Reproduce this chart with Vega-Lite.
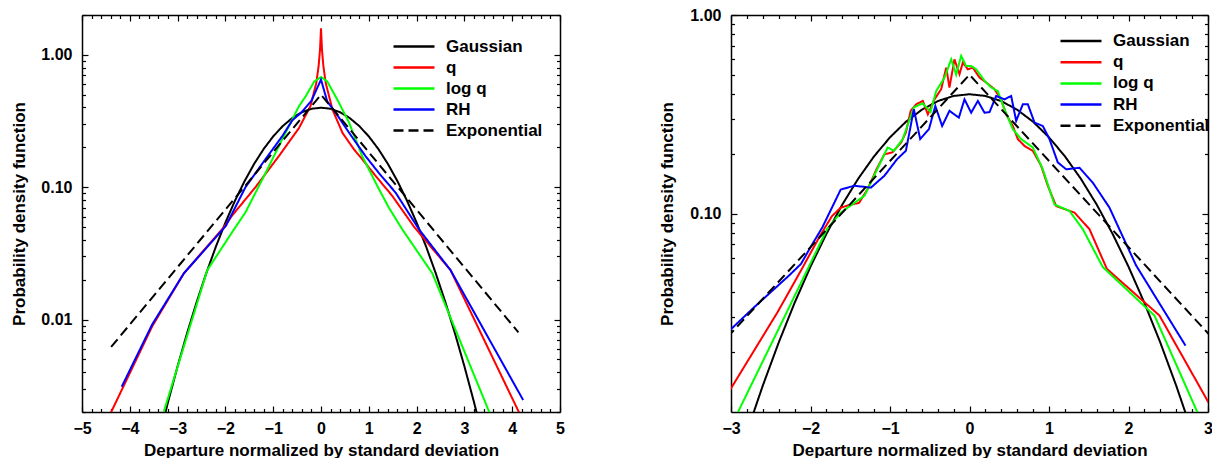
{
  "$schema": "https://vega.github.io/schema/vega-lite/v6.json",
  "padding": {"left": 10, "top": 7, "right": 1, "bottom": 2},
  "config": {
    "view": {"stroke": null},
    "axis": {"domainColor": "black", "domainWidth": 1.5, "tickColor": "black", "tickWidth": 1.2, "grid": false,
      "labelFont": "Liberation Sans", "labelFontWeight": "bold", "labelFontSize": 16, "labelColor": "black",
      "titleFont": "Liberation Sans", "titleFontWeight": "bold", "titleFontSize": 17, "titleColor": "black",
      "labelOverlap": false, "labelFlush": false, "labelBound": false}
  },
  "datasets": {
    "left": [
      {"s":"Gaussian","x":-3.4,"y":0.00123},{"s":"Gaussian","x":-3.2,"y":0.00238},{"s":"Gaussian","x":-3.0,"y":0.00443},{"s":"Gaussian","x":-2.8,"y":0.00792},{"s":"Gaussian","x":-2.6,"y":0.01358},{"s":"Gaussian","x":-2.4,"y":0.02239},{"s":"Gaussian","x":-2.2,"y":0.03547},{"s":"Gaussian","x":-2.0,"y":0.05399},{"s":"Gaussian","x":-1.8,"y":0.07895},{"s":"Gaussian","x":-1.6,"y":0.11092},{"s":"Gaussian","x":-1.4,"y":0.14973},{"s":"Gaussian","x":-1.2,"y":0.19419},{"s":"Gaussian","x":-1.0,"y":0.24197},{"s":"Gaussian","x":-0.8,"y":0.28969},{"s":"Gaussian","x":-0.6,"y":0.33322},{"s":"Gaussian","x":-0.4,"y":0.36827},{"s":"Gaussian","x":-0.2,"y":0.39104},{"s":"Gaussian","x":0.0,"y":0.39894},{"s":"Gaussian","x":0.2,"y":0.39104},{"s":"Gaussian","x":0.4,"y":0.36827},{"s":"Gaussian","x":0.6,"y":0.33322},{"s":"Gaussian","x":0.8,"y":0.28969},{"s":"Gaussian","x":1.0,"y":0.24197},{"s":"Gaussian","x":1.2,"y":0.19419},{"s":"Gaussian","x":1.4,"y":0.14973},{"s":"Gaussian","x":1.6,"y":0.11092},{"s":"Gaussian","x":1.8,"y":0.07895},{"s":"Gaussian","x":2.0,"y":0.05399},{"s":"Gaussian","x":2.2,"y":0.03547},{"s":"Gaussian","x":2.4,"y":0.02239},{"s":"Gaussian","x":2.6,"y":0.01358},{"s":"Gaussian","x":2.8,"y":0.00792},{"s":"Gaussian","x":3.0,"y":0.00443},{"s":"Gaussian","x":3.2,"y":0.00238},{"s":"Gaussian","x":3.4,"y":0.00123},
      {"s":"q","x":-4.45,"y":0.0018},{"s":"q","x":-3.53,"y":0.0089},{"s":"q","x":-2.87,"y":0.0223},{"s":"q","x":-2.03,"y":0.05},{"s":"q","x":-1.86,"y":0.061},{"s":"q","x":-1.37,"y":0.1},{"s":"q","x":-0.88,"y":0.172},{"s":"q","x":-0.46,"y":0.28},{"s":"q","x":-0.22,"y":0.41},{"s":"q","x":-0.1,"y":0.61},{"s":"q","x":-0.05,"y":0.82},{"s":"q","x":-0.02,"y":1.1},{"s":"q","x":0,"y":1.59},{"s":"q","x":0.02,"y":1.1},{"s":"q","x":0.05,"y":0.82},{"s":"q","x":0.1,"y":0.61},{"s":"q","x":0.24,"y":0.386},{"s":"q","x":0.45,"y":0.257},{"s":"q","x":0.69,"y":0.193},{"s":"q","x":0.86,"y":0.163},{"s":"q","x":1.14,"y":0.122},{"s":"q","x":1.49,"y":0.086},{"s":"q","x":1.95,"y":0.05},{"s":"q","x":2.71,"y":0.0236},{"s":"q","x":4.2,"y":0.0018},
      {"s":"log q","x":-3.35,"y":0.0017},{"s":"log q","x":-2.38,"y":0.0236},{"s":"log q","x":-1.82,"y":0.048},{"s":"log q","x":-1.58,"y":0.0645},{"s":"log q","x":-1.16,"y":0.128},{"s":"log q","x":-0.81,"y":0.23},{"s":"log q","x":-0.46,"y":0.41},{"s":"log q","x":-0.32,"y":0.486},{"s":"log q","x":-0.14,"y":0.63},{"s":"log q","x":0,"y":0.68},{"s":"log q","x":0.13,"y":0.63},{"s":"log q","x":0.34,"y":0.46},{"s":"log q","x":0.59,"y":0.306},{"s":"log q","x":0.86,"y":0.172},{"s":"log q","x":1.21,"y":0.097},{"s":"log q","x":1.42,"y":0.07},{"s":"log q","x":1.7,"y":0.048},{"s":"log q","x":2.33,"y":0.0223},{"s":"log q","x":3.6,"y":0.0017},
      {"s":"RH","x":-4.17,"y":0.0031},{"s":"RH","x":-3.53,"y":0.0092},{"s":"RH","x":-2.87,"y":0.0223},{"s":"RH","x":-1.99,"y":0.051},{"s":"RH","x":-1.58,"y":0.1},{"s":"RH","x":-1.16,"y":0.163},{"s":"RH","x":-0.81,"y":0.243},{"s":"RH","x":-0.6,"y":0.32},{"s":"RH","x":-0.4,"y":0.37},{"s":"RH","x":-0.2,"y":0.45},{"s":"RH","x":0,"y":0.65},{"s":"RH","x":0.13,"y":0.445},{"s":"RH","x":0.31,"y":0.364},{"s":"RH","x":0.59,"y":0.257},{"s":"RH","x":0.93,"y":0.172},{"s":"RH","x":1.21,"y":0.128},{"s":"RH","x":1.56,"y":0.091},{"s":"RH","x":2.05,"y":0.048},{"s":"RH","x":2.71,"y":0.0236},{"s":"RH","x":4.23,"y":0.00246},
      {"s":"Exponential","x":-4.39,"y":0.0062},{"s":"Exponential","x":0,"y":0.5},{"s":"Exponential","x":4.13,"y":0.008}
    ],
    "right": [
      {"s":"Gaussian","x":-3.2,"y":0.00238},{"s":"Gaussian","x":-3.0,"y":0.00443},{"s":"Gaussian","x":-2.8,"y":0.00792},{"s":"Gaussian","x":-2.6,"y":0.01358},{"s":"Gaussian","x":-2.4,"y":0.02239},{"s":"Gaussian","x":-2.2,"y":0.03547},{"s":"Gaussian","x":-2.0,"y":0.05399},{"s":"Gaussian","x":-1.8,"y":0.07895},{"s":"Gaussian","x":-1.6,"y":0.11092},{"s":"Gaussian","x":-1.4,"y":0.14973},{"s":"Gaussian","x":-1.2,"y":0.19419},{"s":"Gaussian","x":-1.0,"y":0.24197},{"s":"Gaussian","x":-0.8,"y":0.28969},{"s":"Gaussian","x":-0.6,"y":0.33322},{"s":"Gaussian","x":-0.4,"y":0.36827},{"s":"Gaussian","x":-0.2,"y":0.39104},{"s":"Gaussian","x":0.0,"y":0.39894},{"s":"Gaussian","x":0.2,"y":0.39104},{"s":"Gaussian","x":0.4,"y":0.36827},{"s":"Gaussian","x":0.6,"y":0.33322},{"s":"Gaussian","x":0.8,"y":0.28969},{"s":"Gaussian","x":1.0,"y":0.24197},{"s":"Gaussian","x":1.2,"y":0.19419},{"s":"Gaussian","x":1.4,"y":0.14973},{"s":"Gaussian","x":1.6,"y":0.11092},{"s":"Gaussian","x":1.8,"y":0.07895},{"s":"Gaussian","x":2.0,"y":0.05399},{"s":"Gaussian","x":2.2,"y":0.03547},{"s":"Gaussian","x":2.4,"y":0.02239},{"s":"Gaussian","x":2.6,"y":0.01358},{"s":"Gaussian","x":2.8,"y":0.00792},{"s":"Gaussian","x":3.0,"y":0.00443},{"s":"Gaussian","x":3.2,"y":0.00238},
      {"s":"q","x":-3.05,"y":0.0122},{"s":"q","x":-2.415,"y":0.0318},{"s":"q","x":-2.12,"y":0.0516},{"s":"q","x":-1.89,"y":0.076},{"s":"q","x":-1.83,"y":0.0834},{"s":"q","x":-1.73,"y":0.097},{"s":"q","x":-1.62,"y":0.107},{"s":"q","x":-1.49,"y":0.111},{"s":"q","x":-1.39,"y":0.113},{"s":"q","x":-1.28,"y":0.133},{"s":"q","x":-1.17,"y":0.167},{"s":"q","x":-1.07,"y":0.199},{"s":"q","x":-0.97,"y":0.203},{"s":"q","x":-0.86,"y":0.228},{"s":"q","x":-0.8,"y":0.256},{"s":"q","x":-0.74,"y":0.329},{"s":"q","x":-0.671,"y":0.355},{"s":"q","x":-0.587,"y":0.369},{"s":"q","x":-0.524,"y":0.316},{"s":"q","x":-0.44,"y":0.376},{"s":"q","x":-0.356,"y":0.423},{"s":"q","x":-0.293,"y":0.543},{"s":"q","x":-0.252,"y":0.431},{"s":"q","x":-0.189,"y":0.598},{"s":"q","x":-0.126,"y":0.503},{"s":"q","x":-0.084,"y":0.576},{"s":"q","x":-0.021,"y":0.533},{"s":"q","x":0.042,"y":0.543},{"s":"q","x":0.126,"y":0.484},{"s":"q","x":0.21,"y":0.457},{"s":"q","x":0.314,"y":0.423},{"s":"q","x":0.398,"y":0.376},{"s":"q","x":0.461,"y":0.316},{"s":"q","x":0.545,"y":0.276},{"s":"q","x":0.608,"y":0.237},{"s":"q","x":0.692,"y":0.219},{"s":"q","x":0.797,"y":0.207},{"s":"q","x":0.901,"y":0.174},{"s":"q","x":0.985,"y":0.138},{"s":"q","x":1.09,"y":0.109},{"s":"q","x":1.321,"y":0.101},{"s":"q","x":1.509,"y":0.0834},{"s":"q","x":1.728,"y":0.0526},{"s":"q","x":2.39,"y":0.0306},{"s":"q","x":3.05,"y":0.0104},
      {"s":"log q","x":-2.95,"y":0.0093},{"s":"log q","x":-2.37,"y":0.0278},{"s":"log q","x":-1.79,"y":0.0837},{"s":"log q","x":-1.62,"y":0.101},{"s":"log q","x":-1.45,"y":0.113},{"s":"log q","x":-1.32,"y":0.123},{"s":"log q","x":-1.2,"y":0.155},{"s":"log q","x":-1.03,"y":0.215},{"s":"log q","x":-0.95,"y":0.207},{"s":"log q","x":-0.84,"y":0.237},{"s":"log q","x":-0.7,"y":0.342},{"s":"log q","x":-0.59,"y":0.359},{"s":"log q","x":-0.49,"y":0.325},{"s":"log q","x":-0.419,"y":0.414},{"s":"log q","x":-0.314,"y":0.484},{"s":"log q","x":-0.23,"y":0.598},{"s":"log q","x":-0.168,"y":0.5},{"s":"log q","x":-0.105,"y":0.622},{"s":"log q","x":-0.042,"y":0.553},{"s":"log q","x":0.021,"y":0.553},{"s":"log q","x":0.084,"y":0.533},{"s":"log q","x":0.189,"y":0.466},{"s":"log q","x":0.273,"y":0.431},{"s":"log q","x":0.356,"y":0.414},{"s":"log q","x":0.44,"y":0.335},{"s":"log q","x":0.545,"y":0.266},{"s":"log q","x":0.65,"y":0.237},{"s":"log q","x":0.797,"y":0.215},{"s":"log q","x":0.922,"y":0.167},{"s":"log q","x":1.069,"y":0.111},{"s":"log q","x":1.258,"y":0.103},{"s":"log q","x":1.425,"y":0.0834},{"s":"log q","x":1.677,"y":0.0537},{"s":"log q","x":2.327,"y":0.0306},{"s":"log q","x":2.9,"y":0.0093},
      {"s":"RH","x":-3.01,"y":0.0259},{"s":"RH","x":-2.73,"y":0.0331},{"s":"RH","x":-2.27,"y":0.0487},{"s":"RH","x":-2.12,"y":0.0557},{"s":"RH","x":-2.0,"y":0.0676},{"s":"RH","x":-1.85,"y":0.0853},{"s":"RH","x":-1.62,"y":0.132},{"s":"RH","x":-1.45,"y":0.138},{"s":"RH","x":-1.24,"y":0.135},{"s":"RH","x":-1.07,"y":0.155},{"s":"RH","x":-0.91,"y":0.188},{"s":"RH","x":-0.8,"y":0.207},{"s":"RH","x":-0.7,"y":0.335},{"s":"RH","x":-0.62,"y":0.237},{"s":"RH","x":-0.51,"y":0.266},{"s":"RH","x":-0.43,"y":0.348},{"s":"RH","x":-0.344,"y":0.276},{"s":"RH","x":-0.252,"y":0.329},{"s":"RH","x":-0.134,"y":0.304},{"s":"RH","x":-0.063,"y":0.376},{"s":"RH","x":0.021,"y":0.322},{"s":"RH","x":0.105,"y":0.369},{"s":"RH","x":0.189,"y":0.322},{"s":"RH","x":0.252,"y":0.324},{"s":"RH","x":0.335,"y":0.391},{"s":"RH","x":0.44,"y":0.376},{"s":"RH","x":0.524,"y":0.391},{"s":"RH","x":0.587,"y":0.293},{"s":"RH","x":0.671,"y":0.355},{"s":"RH","x":0.734,"y":0.355},{"s":"RH","x":0.818,"y":0.287},{"s":"RH","x":0.922,"y":0.276},{"s":"RH","x":1.006,"y":0.237},{"s":"RH","x":1.11,"y":0.181},{"s":"RH","x":1.216,"y":0.167},{"s":"RH","x":1.384,"y":0.17},{"s":"RH","x":1.551,"y":0.143},{"s":"RH","x":1.761,"y":0.107},{"s":"RH","x":1.887,"y":0.083},{"s":"RH","x":2.096,"y":0.0547},{"s":"RH","x":2.717,"y":0.0216},
      {"s":"Exponential","x":-3.05,"y":0.0237},{"s":"Exponential","x":0,"y":0.5},{"s":"Exponential","x":3.05,"y":0.0237}
    ]
  },
  "hconcat": [
    {
      "width": 478, "height": 397,
      "data": {"name": "left"},
      "layer": [
        {
          "mark": {"type": "line", "clip": true, "strokeWidth": 2},
          "encoding": {
            "x": {"field": "x", "type": "quantitative", "scale": {"domain": [-5, 5], "nice": false, "zero": false},
              "axis": {"orient": "bottom", "values": [-5,-4.8,-4.6,-4.4,-4.2,-4,-3.8,-3.6,-3.4,-3.2,-3,-2.8,-2.6,-2.4,-2.2,-2,-1.8,-1.6,-1.4,-1.2,-1,-0.8,-0.6,-0.4,-0.2,0,0.2,0.4,0.6,0.8,1,1.2,1.4,1.6,1.8,2,2.2,2.4,2.6,2.8,3,3.2,3.4,3.6,3.8,4,4.2,4.4,4.6,4.8,5],
                "labelExpr": "abs(datum.value - round(datum.value)) < 0.001 ? format(datum.value, 'd') : ''",
                "tickSize": {"condition": {"test": "abs(datum.value - round(datum.value)) < 0.001", "value": -6}, "value": -3.5},
                "labelPadding": 14, "title": "Departure normalized by standard deviation", "titlePadding": 4}},
            "y": {"field": "y", "type": "quantitative", "scale": {"type": "log", "domain": [0.002, 2], "nice": false},
              "axis": {"orient": "left", "values": [0.002,0.003,0.004,0.005,0.006,0.007,0.008,0.009,0.01,0.02,0.03,0.04,0.05,0.06,0.07,0.08,0.09,0.1,0.2,0.3,0.4,0.5,0.6,0.7,0.8,0.9,1,2],
                "labelExpr": "abs(log(datum.value)/LN10 - round(log(datum.value)/LN10)) < 0.001 ? format(datum.value, '.2f') : ''",
                "tickSize": {"condition": {"test": "abs(log(datum.value)/LN10 - round(log(datum.value)/LN10)) < 0.001", "value": -6}, "value": -3.5},
                "labelPadding": 16, "title": "Probability density function", "titlePadding": 12}},
            "color": {"field": "s", "type": "nominal",
              "scale": {"domain": ["Gaussian", "q", "log q", "RH", "Exponential"], "range": ["#000000", "#ff0000", "#00ff00", "#0000ff", "#000000"]},
              "legend": {"title": null, "orient": "none", "legendX": 310, "legendY": 22, "symbolType": "stroke", "symbolSize": 1681, "symbolStrokeWidth": 2.5,
                "labelFont": "Liberation Sans", "labelFontWeight": "bold", "labelFontSize": 17, "labelColor": "black", "labelOffset": 10, "clipHeight": 19, "rowPadding": 2, "padding": 0}},
            "strokeDash": {"field": "s", "type": "nominal",
              "scale": {"domain": ["Gaussian", "q", "log q", "RH", "Exponential"], "range": [[1, 0], [1, 0], [1, 0], [1, 0], [10, 5]]},
              "legend": {"title": null, "orient": "none", "legendX": 310, "legendY": 22, "symbolType": "stroke", "symbolSize": 1681, "symbolStrokeWidth": 2.5,
                "labelFont": "Liberation Sans", "labelFontWeight": "bold", "labelFontSize": 17, "labelColor": "black", "labelOffset": 10, "clipHeight": 19, "rowPadding": 2, "padding": 0}}
          }
        },
        {
          "mark": {"type": "line", "clip": true, "opacity": 0},
          "encoding": {
            "x": {"field": "x", "type": "quantitative", "scale": {"domain": [-5, 5], "nice": false, "zero": false},
              "axis": {"orient": "top", "values": [-5,-4.8,-4.6,-4.4,-4.2,-4,-3.8,-3.6,-3.4,-3.2,-3,-2.8,-2.6,-2.4,-2.2,-2,-1.8,-1.6,-1.4,-1.2,-1,-0.8,-0.6,-0.4,-0.2,0,0.2,0.4,0.6,0.8,1,1.2,1.4,1.6,1.8,2,2.2,2.4,2.6,2.8,3,3.2,3.4,3.6,3.8,4,4.2,4.4,4.6,4.8,5],
                "labels": false, "title": null,
                "tickSize": {"condition": {"test": "abs(datum.value - round(datum.value)) < 0.001", "value": -6}, "value": -3.5}}},
            "y": {"field": "y", "type": "quantitative", "scale": {"type": "log", "domain": [0.002, 2], "nice": false},
              "axis": {"orient": "right", "values": [0.002,0.003,0.004,0.005,0.006,0.007,0.008,0.009,0.01,0.02,0.03,0.04,0.05,0.06,0.07,0.08,0.09,0.1,0.2,0.3,0.4,0.5,0.6,0.7,0.8,0.9,1,2],
                "labels": false, "title": null,
                "tickSize": {"condition": {"test": "abs(log(datum.value)/LN10 - round(log(datum.value)/LN10)) < 0.001", "value": -6}, "value": -3.5}}}
          }
        }
      ],
      "resolve": {"axis": {"x": "independent", "y": "independent"}}
    },
    {
      "width": 477, "height": 397,
      "data": {"name": "right"},
      "layer": [
        {
          "mark": {"type": "line", "clip": true, "strokeWidth": 2},
          "encoding": {
            "x": {"field": "x", "type": "quantitative", "scale": {"domain": [-3, 3], "nice": false, "zero": false},
              "axis": {"orient": "bottom", "values": [-3,-2.8,-2.6,-2.4,-2.2,-2,-1.8,-1.6,-1.4,-1.2,-1,-0.8,-0.6,-0.4,-0.2,0,0.2,0.4,0.6,0.8,1,1.2,1.4,1.6,1.8,2,2.2,2.4,2.6,2.8,3],
                "labelExpr": "abs(datum.value - round(datum.value)) < 0.001 ? format(datum.value, 'd') : ''",
                "tickSize": {"condition": {"test": "abs(datum.value - round(datum.value)) < 0.001", "value": -6}, "value": -3.5},
                "labelPadding": 14, "title": "Departure normalized by standard deviation", "titlePadding": 4}},
            "y": {"field": "y", "type": "quantitative", "scale": {"type": "log", "domain": [0.01, 1], "nice": false},
              "axis": {"orient": "left", "values": [0.02,0.03,0.04,0.05,0.06,0.07,0.08,0.09,0.1,0.2,0.3,0.4,0.5,0.6,0.7,0.8,0.9,1],
                "labelExpr": "abs(log(datum.value)/LN10 - round(log(datum.value)/LN10)) < 0.001 ? format(datum.value, '.2f') : ''",
                "tickSize": {"condition": {"test": "abs(log(datum.value)/LN10 - round(log(datum.value)/LN10)) < 0.001", "value": -6}, "value": -3.5},
                "labelPadding": 16, "title": "Probability density function", "titlePadding": 13}},
            "color": {"field": "s", "type": "nominal",
              "scale": {"domain": ["Gaussian", "q", "log q", "RH", "Exponential"], "range": ["#000000", "#ff0000", "#00ff00", "#0000ff", "#000000"]},
              "legend": {"title": null, "orient": "none", "legendX": 328, "legendY": 16.5, "symbolType": "stroke", "symbolSize": 1681, "symbolStrokeWidth": 2.5,
                "labelFont": "Liberation Sans", "labelFontWeight": "bold", "labelFontSize": 17, "labelColor": "black", "labelOffset": 10, "clipHeight": 19, "rowPadding": 2.2, "padding": 0}},
            "strokeDash": {"field": "s", "type": "nominal",
              "scale": {"domain": ["Gaussian", "q", "log q", "RH", "Exponential"], "range": [[1, 0], [1, 0], [1, 0], [1, 0], [10, 5]]},
              "legend": {"title": null, "orient": "none", "legendX": 328, "legendY": 16.5, "symbolType": "stroke", "symbolSize": 1681, "symbolStrokeWidth": 2.5,
                "labelFont": "Liberation Sans", "labelFontWeight": "bold", "labelFontSize": 17, "labelColor": "black", "labelOffset": 10, "clipHeight": 19, "rowPadding": 2.2, "padding": 0}}
          }
        },
        {
          "mark": {"type": "line", "clip": true, "opacity": 0},
          "encoding": {
            "x": {"field": "x", "type": "quantitative", "scale": {"domain": [-3, 3], "nice": false, "zero": false},
              "axis": {"orient": "top", "values": [-3,-2.8,-2.6,-2.4,-2.2,-2,-1.8,-1.6,-1.4,-1.2,-1,-0.8,-0.6,-0.4,-0.2,0,0.2,0.4,0.6,0.8,1,1.2,1.4,1.6,1.8,2,2.2,2.4,2.6,2.8,3],
                "labels": false, "title": null,
                "tickSize": {"condition": {"test": "abs(datum.value - round(datum.value)) < 0.001", "value": -6}, "value": -3.5}}},
            "y": {"field": "y", "type": "quantitative", "scale": {"type": "log", "domain": [0.01, 1], "nice": false},
              "axis": {"orient": "right", "values": [0.02,0.03,0.04,0.05,0.06,0.07,0.08,0.09,0.1,0.2,0.3,0.4,0.5,0.6,0.7,0.8,0.9,1],
                "labels": false, "title": null,
                "tickSize": {"condition": {"test": "abs(log(datum.value)/LN10 - round(log(datum.value)/LN10)) < 0.001", "value": -6}, "value": -3.5}}}
          }
        }
      ],
      "resolve": {"axis": {"x": "independent", "y": "independent"}}
    }
  ],
  "spacing": 171,
  "bounds": "flush",
  "resolve": {"scale": {"x": "independent", "y": "independent", "color": "independent", "strokeDash": "independent"}, "legend": {"color": "independent", "strokeDash": "independent"}}
}
